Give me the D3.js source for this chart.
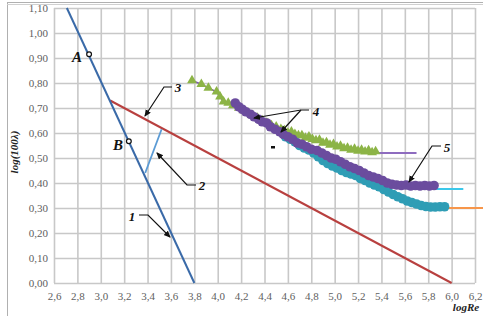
<!DOCTYPE html>
<html>
<head>
<meta charset="utf-8">
<script src="https://cdn.jsdelivr.net/npm/d3@7"></script>
<style>
  body { margin: 0; background: #fff; }
  svg { display: block; }
</style>
</head>
<body>
<div id="chart"></div>
<script>
// tick values
const xTicks = [2.6, 2.8, 3.0, 3.2, 3.4, 3.6, 3.8, 4.0, 4.2, 4.4, 4.6, 4.8, 5.0, 5.2, 5.4, 5.6, 5.8, 6.0, 6.2];
const yTicks = [0, 0.1, 0.2, 0.3, 0.4, 0.5, 0.6, 0.7, 0.8, 0.9, 1.0, 1.1];

// straight lines 1, 2, 3
const line1 = [[2.71, 1.10], [3.80, 0.00]];
const line2 = [[3.38, 0.44], [3.52, 0.615]];
const line3 = [[3.08, 0.73], [6.00, 0.00]];

// marked points A, B
const pointA = [2.90, 0.915];
const pointB = [3.24, 0.567];

// series 4: green triangles
const greenTri = [
  [3.78, 0.81], [3.86, 0.795], [3.92, 0.78], [3.99, 0.765], [4.02, 0.745], [4.05, 0.725],
  [4.09, 0.72], [4.13, 0.71], [4.18, 0.70], [4.22, 0.69], [4.26, 0.68], [4.30, 0.67],
  [4.34, 0.66], [4.38, 0.65], [4.42, 0.64], [4.46, 0.63], [4.50, 0.625], [4.54, 0.615],
  [4.57, 0.61], [4.60, 0.60], [4.63, 0.605], [4.66, 0.595], [4.69, 0.59], [4.72, 0.59],
  [4.75, 0.58], [4.78, 0.585], [4.81, 0.575], [4.84, 0.57], [4.87, 0.572], [4.90, 0.56],
  [4.93, 0.562], [4.96, 0.552], [4.99, 0.555], [5.02, 0.545], [5.05, 0.548], [5.08, 0.538],
  [5.11, 0.54], [5.14, 0.532], [5.17, 0.536], [5.20, 0.528], [5.23, 0.532], [5.26, 0.525],
  [5.29, 0.53], [5.32, 0.522], [5.35, 0.526]
];

// series 4: purple circles
const purpleDots = [
  [4.15, 0.72], [4.18, 0.705], [4.21, 0.695], [4.24, 0.685], [4.28, 0.675], [4.31, 0.665],
  [4.35, 0.655], [4.38, 0.645], [4.42, 0.64], [4.45, 0.625], [4.49, 0.615], [4.53, 0.605],
  [4.56, 0.595], [4.60, 0.585], [4.64, 0.575], [4.68, 0.56], [4.72, 0.555], [4.76, 0.545],
  [4.80, 0.535], [4.85, 0.53], [4.89, 0.52], [4.93, 0.51], [4.97, 0.50], [5.01, 0.495],
  [5.05, 0.485], [5.09, 0.475], [5.13, 0.465], [5.17, 0.458], [5.21, 0.45], [5.25, 0.44],
  [5.29, 0.43], [5.33, 0.424], [5.37, 0.418], [5.41, 0.41], [5.45, 0.40], [5.49, 0.395],
  [5.53, 0.392], [5.57, 0.39], [5.61, 0.392], [5.65, 0.388], [5.69, 0.39], [5.73, 0.388],
  [5.77, 0.39], [5.81, 0.388], [5.85, 0.39]
];

// series 4: teal circles
const tealDots = [
  [4.58, 0.585], [4.62, 0.575], [4.66, 0.565], [4.70, 0.55], [4.74, 0.54], [4.78, 0.532],
  [4.82, 0.52], [4.86, 0.505], [4.90, 0.49], [4.94, 0.478], [4.98, 0.468], [5.02, 0.46],
  [5.06, 0.45], [5.10, 0.442], [5.14, 0.436], [5.18, 0.43], [5.22, 0.418], [5.26, 0.41],
  [5.30, 0.40], [5.34, 0.392], [5.38, 0.385], [5.42, 0.374], [5.46, 0.364], [5.50, 0.354],
  [5.54, 0.345], [5.58, 0.337], [5.62, 0.328], [5.66, 0.322], [5.70, 0.316], [5.74, 0.31],
  [5.78, 0.306], [5.82, 0.304], [5.86, 0.304], [5.90, 0.305], [5.94, 0.305]
];

// series 5: level lines
const levels = [
  { x0: 5.36, x1: 5.70, y: 0.52, color: "#8e6cbf" },
  { x0: 5.84, x1: 6.10, y: 0.376, color: "#3cc8ea" },
  { x0: 5.92, x1: 6.27, y: 0.30, color: "#f7964a" }
];

const W = 483, H = 316;
const margin = { left: 54, right: 8, top: 8, bottom: 33 };

const svg = d3.select("#chart").append("svg")
  .attr("width", W).attr("height", H);

// outer frame
svg.append("rect").attr("x", 7.5).attr("y", 2.5).attr("width", 490).attr("height", 330)
  .attr("fill", "none").attr("stroke", "#b0b0b0").attr("stroke-width", 1);
svg.append("line").attr("x1", 7).attr("x2", W).attr("y1", 4.5).attr("y2", 4.5)
  .attr("stroke", "#d0d0d0");

const x = d3.scaleLinear().domain([2.6, 6.2]).range([margin.left, W - margin.right]);
const y = d3.scaleLinear().domain([0, 1.1]).range([H - margin.bottom, margin.top]);

const fmtX = d => d3.format(".1f")(d).replace(".", ",");
const fmtY = d => d3.format(".2f")(d).replace(".", ",");

// gridlines
const gx = svg.append("g")
  .attr("transform", "translate(0," + y(0) + ")")
  .call(d3.axisBottom(x).tickValues(xTicks).tickSize(-(y(0) - y(1.1))).tickFormat(fmtX).tickPadding(9));
const gy = svg.append("g")
  .attr("transform", "translate(" + x(2.6) + ",0)")
  .call(d3.axisLeft(y).tickValues(yTicks).tickSize(-(x(6.2) - x(2.6))).tickFormat(fmtY).tickPadding(6));

[gx, gy].forEach(g => {
  g.select(".domain").remove();
  g.selectAll(".tick line").attr("stroke", "#c8c8c8").attr("stroke-width", 1.6);
  g.selectAll(".tick text")
    .attr("fill", "#606060")
    .style("font-family", "Liberation Serif, serif")
    .style("font-size", "11px");
});

const lineGen = d3.line().x(d => x(d[0])).y(d => y(d[1]));

// arrow marker
const defs = svg.append("defs");
defs.append("marker").attr("id", "arrow")
  .attr("markerWidth", 8).attr("markerHeight", 8)
  .attr("refX", 6).attr("refY", 3).attr("orient", "auto")
  .attr("markerUnits", "userSpaceOnUse")
  .append("path").attr("d", "M0,0 L7,3 L0,6 z").attr("fill", "#111");

// line 3 (red)
svg.append("path").datum(line3).attr("d", lineGen)
  .attr("fill", "none").attr("stroke", "#b8403f").attr("stroke-width", 2);
// line 1 (dark blue)
svg.append("path").datum(line1).attr("d", lineGen)
  .attr("fill", "none").attr("stroke", "#3a6aa8").attr("stroke-width", 2);
// line 2 (light blue)
svg.append("path").datum(line2).attr("d", lineGen)
  .attr("fill", "none").attr("stroke", "#5b9bd5").attr("stroke-width", 1.8);

// level lines
svg.selectAll(".level").data(levels).enter().append("line")
  .attr("class", "level")
  .attr("x1", d => x(d.x0)).attr("x2", d => x(d.x1))
  .attr("y1", d => y(d.y)).attr("y2", d => y(d.y))
  .attr("stroke", d => d.color).attr("stroke-width", 2);

// connecting line through the green triangles
svg.append("path").datum(greenTri.slice(0, 12)).attr("d", lineGen)
  .attr("fill", "none").attr("stroke", "#7c5aa8").attr("stroke-width", 1.5);

// green triangles
const tri = d3.symbol().type(d3.symbolTriangle).size(42);
svg.selectAll(".tri").data(greenTri).enter().append("path")
  .attr("class", "tri")
  .attr("transform", d => "translate(" + x(d[0]) + "," + y(d[1]) + ")")
  .attr("d", tri)
  .attr("fill", "#8cb446");

// teal circles
svg.selectAll(".teal").data(tealDots).enter().append("circle")
  .attr("class", "teal")
  .attr("cx", d => x(d[0])).attr("cy", d => y(d[1])).attr("r", 4.8)
  .attr("fill", "#2f9db5");

// purple circles
svg.selectAll(".purple").data(purpleDots).enter().append("circle")
  .attr("class", "purple")
  .attr("cx", d => x(d[0])).attr("cy", d => y(d[1])).attr("r", 4.8)
  .attr("fill", "#6b4c9e");

// points A and B
svg.selectAll(".pt").data([pointA, pointB]).enter().append("circle")
  .attr("class", "pt")
  .attr("cx", d => x(d[0])).attr("cy", d => y(d[1])).attr("r", 2.4)
  .attr("fill", "#fff").attr("stroke", "#111").attr("stroke-width", 1.2);

const labelFont = "Liberation Serif, serif";
function label(txt, px, py, size) {
  svg.append("text").attr("x", px).attr("y", py)
    .attr("text-anchor", "middle")
    .style("font-family", labelFont).style("font-style", "italic").style("font-weight", "bold")
    .style("font-size", (size || 14) + "px").attr("fill", "#111")
    .text(txt);
}
label("A", 77, 62, 15);
label("B", 118, 150, 15);
label("3", 178, 92, 13);
label("2", 202, 190, 13);
label("1", 132, 221, 13);
label("4", 316, 116, 13);
label("5", 447, 152, 13);

function leader(points) {
  svg.append("path").datum(points)
    .attr("d", d3.line())
    .attr("fill", "none").attr("stroke", "#111").attr("stroke-width", 1.2)
    .attr("marker-end", "url(#arrow)");
}
leader([[172, 87], [164, 87], [145, 116]]);
leader([[196, 185], [187, 185], [157, 153]]);
leader([[139, 215], [148, 215], [170, 237]]);
leader([[309, 110], [301, 110], [254, 118]]);
leader([[301, 110], [281, 132]]);
leader([[441, 146], [432, 146], [409, 182]]);

// small stray mark
svg.append("rect").attr("x", 271).attr("y", 146).attr("width", 4).attr("height", 2.5).attr("fill", "#111");

// axis titles
svg.append("text").attr("x", 466).attr("y", 311).attr("text-anchor", "middle")
  .style("font-family", labelFont).style("font-style", "italic").style("font-weight", "bold")
  .style("font-size", "11px").attr("fill", "#222").text("logRe");
svg.append("text").attr("transform", "translate(18,152) rotate(-90)").attr("text-anchor", "middle")
  .style("font-family", labelFont).style("font-style", "italic").style("font-weight", "bold")
  .style("font-size", "11px").attr("fill", "#222").text("log(100λ)");
</script>
</body>
</html>
